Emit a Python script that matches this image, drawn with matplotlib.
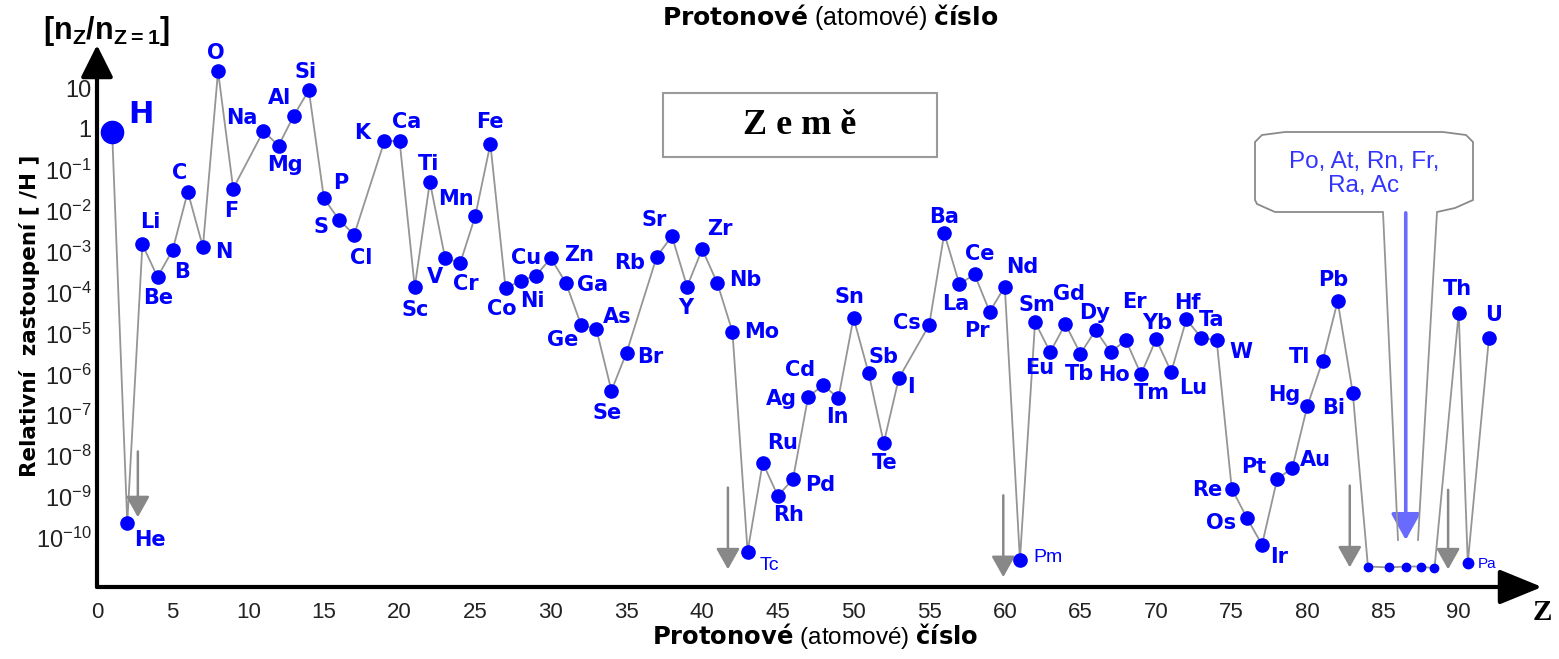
import matplotlib

matplotlib.use("Agg")

import matplotlib.pyplot as plt  # noqa: E402
from matplotlib.lines import Line2D  # noqa: E402
from matplotlib.patches import Polygon, Rectangle  # noqa: E402

W, H = 1559, 659

# relative abundance in the Earth, n_Z / n_H
symbols = [
    "H", "He", "Li", "Be", "B", "C", "N", "O", "F", "Na", "Mg", "Al", "Si", "P", "S", "Cl",
    "K", "Ca", "Sc", "Ti", "V", "Cr", "Mn", "Fe", "Co", "Ni", "Cu", "Zn", "Ga", "Ge", "As",
    "Se", "Br", "Rb", "Sr", "Y", "Zr", "Nb", "Mo", "Tc", "Ru", "Rh", "Pd", "Ag", "Cd", "In",
    "Sn", "Sb", "Te", "I", "Cs", "Ba", "La", "Ce", "Pr", "Nd", "Pm", "Sm", "Eu", "Gd", "Tb",
    "Dy", "Ho", "Er", "Tm", "Yb", "Lu", "Hf", "Ta", "W", "Re", "Os", "Ir", "Pt", "Au", "Hg",
    "Tl", "Pb", "Bi", "Th", "Pa", "U",
]
z_numbers = [
    1, 2, 3, 4, 5, 6, 7, 8, 9, 11, 12, 13, 14, 15, 16, 17,
    19, 20, 21, 22, 23, 24, 25, 26, 27, 28, 29, 30, 31, 32, 33,
    34, 35, 37, 38, 39, 40, 41, 42, 43, 44, 45, 46, 47, 48, 49,
    50, 51, 52, 53, 55, 56, 57, 58, 59, 60, 61, 62, 63, 64, 65,
    66, 67, 68, 69, 70, 71, 72, 73, 74, 75, 76, 77, 78, 79, 80,
    81, 82, 83, 90, 90.6, 92,
]
abundance = [
    0.85, 2.3e-10, 1.5e-3, 2.4e-4, 1.1e-3, 2.9e-2, 1.3e-3, 26, 3.5e-2, 0.89, 0.39, 2.1, 8.9,
    2.0e-2, 6.0e-3, 2.6e-3,
    0.51, 0.51, 1.35e-4, 5.1e-2, 7.2e-4, 5.2e-4, 7.4e-3, 0.43, 1.3e-4, 1.9e-4, 2.6e-4,
    6.9e-4, 1.7e-4, 1.6e-5, 1.3e-5,
    4.0e-7, 3.4e-6, 7.6e-4, 2.4e-3, 1.4e-4, 1.15e-3, 1.7e-4, 1.1e-5, 4.6e-11, 6.9e-9,
    1.07e-9, 2.75e-9, 2.8e-7, 5.5e-7, 2.6e-7,
    2.4e-5, 1.07e-6, 2.1e-8, 8.1e-7, 1.6e-5, 2.8e-3, 1.6e-4, 2.8e-4, 3.4e-5, 1.4e-4,
    2.9e-11, 1.9e-5, 3.5e-6, 1.7e-5, 3.2e-6,
    1.2e-5, 3.5e-6, 6.9e-6, 1.0e-6, 7.2e-6, 1.15e-6, 2.2e-5, 7.8e-6, 6.9e-6, 1.6e-9,
    3.1e-10, 6.8e-11, 2.75e-9, 5.1e-9, 1.7e-7,
    2.1e-6, 6.2e-5, 3.5e-7, 3.2e-5, 2.45e-11, 7.8e-6,
]

# unlabeled dots for Po .. Ac
heavy_z = [84, 85.4, 86.5, 87.5, 88.4]
heavy_abundance = [2.0e-11, 1.9e-11, 2.0e-11, 2.0e-11, 1.8e-11]

# grey "below the scale" arrows
limit_z = [2.7, 41.7, 59.9, 82.8, 89.3]
limit_from = [1.3e-8, 1.7e-9, 1.1e-9, 1.9e-9, 1.5e-9]
limit_to = [3.2e-10, 1.7e-11, 1.1e-11, 1.9e-11, 1.7e-11]

callout_z = 86.5
callout_from, callout_to = 8.9e-3, 8.9e-11

y_exponents = list(range(1, -11, -1))
x_ticks = list(range(0, 95, 5))

# label offsets in pixels (dx right, dy up) from the dot
label_offset = {
    "H": (29, 17), "He": (23, -17), "Li": (8, 22), "Be": (1, -21), "B": (9, -22),
    "C": (-8, 19), "N": (21, -5), "O": (-2, 18), "F": (-2, -22), "Na": (-22, 13),
    "Mg": (6, -19), "Al": (-14, 18), "Si": (-3, 18), "P": (17, 15), "S": (-18, -7),
    "Cl": (7, -23), "K": (-22, 8), "Ca": (7, 19), "Sc": (0, -23), "Ti": (-1, 18),
    "V": (-10, -19), "Cr": (6, -21), "Mn": (-19, 17), "Fe": (0, 22), "Co": (-4, -21),
    "Ni": (12, -20), "Cu": (-10, 18), "Zn": (28, 3), "Ga": (27, -2), "Ge": (-18, -15),
    "As": (21, 12), "Se": (-4, -22), "Br": (24, -4), "Rb": (-27, -6), "Sr": (-18, 16),
    "Y": (-1, -21), "Zr": (18, 20), "Nb": (28, 3), "Mo": (29, 0), "Tc": (22, -14),
    "Ru": (20, 20), "Rh": (11, -19), "Pd": (27, -6), "Ag": (-27, -2), "Cd": (-23, 15),
    "In": (-1, -19), "Sn": (-4, 21), "Sb": (15, 16), "Te": (1, -20), "I": (12, -9),
    "Cs": (-22, 2), "Ba": (0, 16), "La": (-4, -20), "Ce": (5, 20), "Pr": (-13, -19),
    "Nd": (17, 20), "Pm": (28, 2), "Sm": (2, 17), "Eu": (-11, -16), "Gd": (4, 30),
    "Tb": (-1, -20), "Dy": (-1, 17), "Ho": (3, -23), "Er": (9, 38), "Tm": (11, -19),
    "Yb": (1, 16), "Lu": (22, -16), "Hf": (1, 16), "Ta": (10, 18), "W": (24, -12),
    "Re": (-24, -1), "Os": (-26, -5), "Ir": (17, -12), "Pt": (-23, 12), "Au": (23, 8),
    "Hg": (-23, 11), "Tl": (-23, 4), "Pb": (-4, 21), "Bi": (-19, -15), "Th": (-1, 24),
    "Pa": (19, -1), "U": (5, 23),
}
thin_labels = {"Tc", "Pm", "Pa"}

BLUE = "#0000ff"
GREY = "#959595"

plt.rcParams["mathtext.fontset"] = "custom"
plt.rcParams["mathtext.rm"] = "Liberation Sans"
plt.rcParams["mathtext.bf"] = "DejaVu Sans:bold"
plt.rcParams["mathtext.default"] = "regular"
plt.rcParams["font.family"] = ["DejaVu Sans"]


def fx(px):
    return px / W


def fy(py):
    return 1 - py / H


fig = plt.figure(figsize=(W / 100, H / 100), dpi=100)
ax = fig.add_axes([fx(97), fy(587), fx(1540 - 97), (587 - 45) / H])
ax.set_yscale("log")
ax.set_xlim(0, (1540 - 97) / 15.13)
ax.set_ylim(10 ** -11.2, 10 ** 2.054)
for side in ax.spines.values():
    side.set_visible(False)

ax.set_yticks([10.0 ** e for e in y_exponents])
ax.set_yticklabels(["10" if e == 1 else "1" if e == 0 else f"$10^{{{e}}}$" for e in y_exponents])
ax.yaxis.set_minor_locator(matplotlib.ticker.NullLocator())
ax.set_xticks(x_ticks)
ax.set_xticklabels([str(t) for t in x_ticks])
ax.tick_params(axis="y", length=0, pad=4, labelsize=17, labelcolor="#222222")
ax.tick_params(axis="x", length=0, pad=11, labelsize=16, labelcolor="#222222")
for lab in ax.get_xticklabels() + ax.get_yticklabels():
    lab.set_family("Liberation Sans")

# axis arrows
arrow_kw = dict(xycoords="axes fraction", textcoords="axes fraction", annotation_clip=False)
ax.annotate("", xy=(0, 1), xytext=(0, 0),
            arrowprops=dict(arrowstyle="-|>,head_length=0.9,head_width=0.45", lw=3, color="black",
                            mutation_scale=22, shrinkA=0, shrinkB=0), **arrow_kw)
ax.annotate("", xy=(1.0014, 0), xytext=(0, 0),
            arrowprops=dict(arrowstyle="-|>,head_length=1.1,head_width=0.45", lw=3, color="black",
                            mutation_scale=24, shrinkA=0, shrinkB=0), **arrow_kw)

# connecting line
line_pts = sorted(zip(z_numbers + heavy_z, abundance + heavy_abundance))
ax.plot([p[0] for p in line_pts], [p[1] for p in line_pts], color=GREY, lw=1.3, zorder=2, clip_on=False)

# below-scale arrows
for z, a, b in zip(limit_z, limit_from, limit_to):
    ax.annotate("", xy=(z, b), xytext=(z, a), annotation_clip=False,
                arrowprops=dict(arrowstyle="-|>,head_length=0.8,head_width=0.45", lw=1.8,
                                color="#888888", mutation_scale=16, shrinkA=0, shrinkB=0))
ax.annotate("", xy=(callout_z, callout_to), xytext=(callout_z, callout_from), annotation_clip=False,
            arrowprops=dict(arrowstyle="-|>,head_length=0.9,head_width=0.5", lw=2.6,
                            color="#6a6aff", mutation_scale=18, shrinkA=0, shrinkB=0), zorder=4)

# dots
for sym, z, v in zip(symbols, z_numbers, abundance):
    size = 16 if sym == "H" else 7.5 if sym == "Pa" else 9.5
    ax.plot(z, v, "o", color=BLUE, ms=size, mec=BLUE, zorder=5, clip_on=False)
    dx, dy = label_offset[sym]
    if sym == "H":
        kw = dict(fontsize=22, fontweight="bold")
    elif sym in thin_labels:
        kw = dict(fontsize=11 if sym == "Pa" else 14, family="Liberation Sans")
    else:
        kw = dict(fontsize=15, fontweight="bold")
    ax.annotate(sym, (z, v), xytext=(dx, dy), textcoords="offset pixels", ha="center",
                va="center", color=BLUE, annotation_clip=False, zorder=6, **kw)
ax.plot(heavy_z, heavy_abundance, "o", color=BLUE, ms=6, zorder=5, clip_on=False)

# texts around the axes
fig.text(fx(107), fy(31), r"[n$_{Z}$/n$_{Z{=}1}$]", fontsize=22, fontweight="bold",
         family="Liberation Sans", ha="center", va="center")
fig.text(fx(30), fy(316), "Relativní  zastoupení [ /H ]", rotation=90, fontsize=15.5,
         fontweight="bold", ha="center", va="center")
title = r"$\mathbf{Protonové}$ (atomové) $\mathbf{číslo}$"
fig.text(fx(830), fy(17), title, fontsize=18, family="Liberation Sans", ha="center", va="center")
fig.text(fx(815), fy(636), title, fontsize=17.5, family="Liberation Sans", ha="center", va="center")
fig.text(fx(1542), fy(612), "Z", fontsize=21, fontweight="bold", family="Liberation Serif",
         ha="center", va="center")

# "Země" box
fig.patches.append(Rectangle((fx(663), fy(157)), fx(937 - 663), (157 - 93) / H,
                             transform=fig.transFigure, fill=False, ec="#9a9a9a", lw=1.5))
fig.text(fx(800), fy(126), "Z e m ě", fontsize=26, fontweight="bold", family="Liberation Serif",
         ha="center", va="center")

# callout for Po, At, Rn, Fr, Ra, Ac
callout_px = [(1383, 212), (1275, 212), (1257, 204), (1255, 200), (1255, 142), (1262, 135),
              (1285, 132), (1443, 132), (1466, 135), (1473, 142), (1473, 200), (1455, 208),
              (1437, 212)]
fig.patches.append(Polygon([(fx(x), fy(y)) for x, y in callout_px], closed=False, fill=False,
                           ec="#8a8a8a", lw=1.3, transform=fig.transFigure))
for (x0, y0), (x1, y1) in [((1383, 212), (1398, 540)), ((1437, 212), (1418, 540))]:
    fig.lines.append(Line2D([fx(x0), fx(x1)], [fy(y0), fy(y1)], color=GREY, lw=1.3,
                            transform=fig.transFigure))
fig.text(fx(1364), fy(174), "Po, At, Rn, Fr,\nRa, Ac", fontsize=17.5, color="#3434ff",
         family="Liberation Sans", ha="center", va="center", linespacing=1.15)

fig.savefig("out.png", dpi=100, facecolor="white")
